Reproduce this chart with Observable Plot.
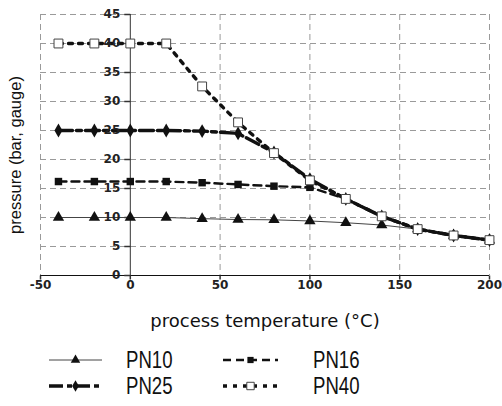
<!DOCTYPE html>
<html><head><meta charset="utf-8">
<script src="https://cdn.jsdelivr.net/npm/d3@7"></script>
<script src="https://cdn.jsdelivr.net/npm/@observablehq/plot@0.6"></script>
<style>
body{margin:0;background:#fff;width:502px;height:406px;overflow:hidden;font-family:"Liberation Sans",Arial,sans-serif;}
#legend{position:relative;height:71px;}
.item{position:absolute;height:22px;}
.item svg{position:absolute;left:0;top:0;}
.item span{position:absolute;top:0px;height:22px;font-family:"Liberation Sans",Arial,sans-serif;font-size:20px;line-height:22px;color:#111;transform:scale(0.93,1.15);transform-origin:0 50%;white-space:nowrap;}
</style></head><body>
<div id="chart"></div><div id="legend"></div>
<script>
// ---- data ----
const temps = [-40, -20, 0, 20, 40, 60, 80, 100, 120, 140, 160, 180, 200];
const pn10  = [10, 10, 10, 10, 9.8, 9.65, 9.6, 9.4, 9.1, 8.7, 8.0, 6.9, 6.1];
const pn16  = [16.2, 16.2, 16.2, 16.2, 16.0, 15.7, 15.4, 15.2, 13.2, 10.2, 8.0, 6.9, 6.1];
const pn25  = [25, 25, 25, 25, 24.9, 24.5, 21.2, 16.6, 13.2, 10.2, 8.0, 6.9, 6.1];
const pn40  = [40, 40, 40, 40, 32.6, 26.4, 21.1, 16.4, 13.2, 10.2, 8.0, 6.9, 6.1];
const seriesNames = ["PN10", "PN16", "PN25", "PN40"];
const seriesValues = [pn10, pn16, pn25, pn40];
const xTicks = [-50, 0, 50, 100, 150, 200];
const yTicks = [0, 5, 10, 15, 20, 25, 30, 35, 40, 45];
const xLabel = "process temperature (°C)";
const yLabel = "pressure (bar, gauge)";

// ---- styles ----
const styles = {
  PN10: {stroke: "#444", strokeWidth: 1, dash: null, symbol: "triangle", fill: "#111", mstroke: "none", r: 4.2},
  PN16: {stroke: "#111", strokeWidth: 2.4, dash: "8,5", symbol: "square", fill: "#111", mstroke: "none", r: 4.2},
  PN25: {stroke: "#111", strokeWidth: 3.4, dash: "14,4,5,4", symbol: "diamond", fill: "#111", mstroke: "none", r: 4.2},
  PN40: {stroke: "#111", strokeWidth: 3.4, dash: "4,6", symbol: "square", fill: "#fff", mstroke: "#444", r: 5.0}
};

const tickLeft = {draw(ctx) { ctx.moveTo(-6, 0); ctx.lineTo(0, 0); }};
const tickDown = {draw(ctx) { ctx.moveTo(0, 0); ctx.lineTo(0, 4); }};

const gridStyle = {stroke: "#9a9a9a", strokeWidth: 1, strokeDasharray: "6,4"};
const marks = [
  Plot.ruleY(yTicks.filter(d => d !== 0), gridStyle),
  Plot.ruleX(xTicks.filter(d => d !== 0), gridStyle),
  Plot.ruleX([0], {stroke: "#333", strokeWidth: 1}),
  Plot.ruleY([0], {stroke: "#111", strokeWidth: 1.2}),
  Plot.dot(yTicks, {x: () => 0, y: d => d, symbol: tickLeft, stroke: "#333", fill: "none", r: 3}),
  Plot.dot(xTicks, {x: d => d, y: () => 0, symbol: tickDown, stroke: "#333", fill: "none", r: 3}),
];
seriesNames.forEach((name, k) => {
  const s = styles[name];
  const rows = temps.map((t, i) => ({t, p: seriesValues[k][i]}));
  marks.push(Plot.line(rows, {x: "t", y: "p", stroke: s.stroke, strokeWidth: s.strokeWidth, strokeDasharray: s.dash}));
});
seriesNames.forEach((name, k) => {
  const s = styles[name];
  const rows = temps.map((t, i) => ({t, p: seriesValues[k][i]}));
  marks.push(Plot.dot(rows, {x: "t", y: "p", symbol: s.symbol, fill: s.fill, stroke: s.mstroke, strokeWidth: 1, r: s.r}));
});
marks.push(
  Plot.text(yTicks, {x: () => 0, y: d => d, text: d => String(d), textAnchor: "end", dx: -10, fontWeight: "bold", fontSize: 12, fontFamily: "DejaVu Sans", fill: "#222"}),
  Plot.text(xTicks, {x: d => d, y: () => 0, text: d => String(d), dy: 10, fontWeight: "bold", fontSize: 12, fontFamily: "DejaVu Sans", fill: "#222"}),
  Plot.text([xLabel], {frameAnchor: "bottom", textAnchor: "middle", dy: 51, fontSize: 18, fontFamily: "DejaVu Sans", fill: "#111"}),
  Plot.text([yLabel], {frameAnchor: "left", textAnchor: "middle", rotate: -90, dx: -25, dy: 10, fontSize: 16.5, fontFamily: "Liberation Sans", fill: "#111"})
);

const chart = Plot.plot({
  width: 502, height: 335,
  marginLeft: 40, marginRight: 13, marginTop: 14, marginBottom: 60,
  x: {domain: [-50, 200], axis: null},
  y: {domain: [0, 45], axis: null},
  style: {background: "#fff", overflow: "visible"},
  marks
});
document.getElementById("chart").appendChild(chart);

// ---- legend ----
const legendPos = {
  PN10: {left: 49, top: 14, sw: 53, tx: 77},
  PN16: {left: 223, top: 14, sw: 55, tx: 90},
  PN25: {left: 49, top: 40, sw: 53, tx: 77},
  PN40: {left: 223, top: 40, sw: 55, tx: 90}
};
const legend = d3.select("#legend");
const symMap = {triangle: d3.symbolTriangle, square: d3.symbolSquare, diamond: d3.symbolDiamond};
seriesNames.forEach(name => {
  const s = styles[name], p = legendPos[name];
  const item = legend.append("div").attr("class", "item").style("left", p.left + "px").style("top", p.top + "px");
  const svg = item.append("svg").attr("width", p.sw).attr("height", 22);
  svg.append("line").attr("x1", 0).attr("x2", p.sw).attr("y1", 11).attr("y2", 11)
    .attr("stroke", s.stroke).attr("stroke-width", s.strokeWidth).attr("stroke-dasharray", s.dash);
  svg.append("path").attr("transform", `translate(${p.sw / 2},11)`)
    .attr("d", d3.symbol(symMap[s.symbol], Math.PI * s.r * s.r * 0.7)())
    .attr("fill", s.fill).attr("stroke", s.mstroke);
  item.append("span").style("left", p.tx + "px").text(name);
});
</script>
</body></html>
